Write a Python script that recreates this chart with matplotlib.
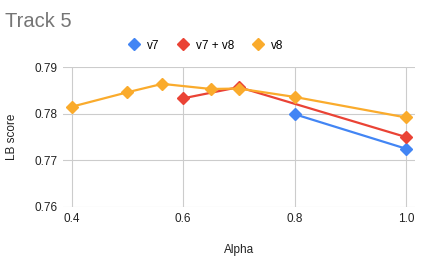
import matplotlib.pyplot as plt

# data
alpha_v7 = [0.8, 1.0]
score_v7 = [0.7799, 0.7725]
alpha_v7v8 = [0.6, 0.7, 1.0]
score_v7v8 = [0.7833, 0.7857, 0.7750]
alpha_v8 = [0.4, 0.5, 0.5625, 0.65, 0.7, 0.8, 1.0]
score_v8 = [0.7815, 0.7846, 0.7864, 0.7853, 0.7854, 0.7836, 0.7792]
x_ticks = [0.4, 0.6, 0.8, 1.0]
y_ticks = [0.76, 0.77, 0.78, 0.79]

plt.rcParams['font.family'] = ['Liberation Sans', 'DejaVu Sans']

fig = plt.figure(figsize=(4.25, 2.6), dpi=100)
ax = fig.add_axes([0.148, 0.204, 0.828, 0.538])

ax.plot(alpha_v7, score_v7, color='#4285F4', marker='D', markersize=6, lw=1.6, label='v7')
ax.plot(alpha_v7v8, score_v7v8, color='#EA4335', marker='D', markersize=6, lw=1.6, label='v7 + v8')
ax.plot(alpha_v8, score_v8, color='#FAAB2C', marker='D', markersize=6, lw=1.6, label='v8')

ax.set_xlim(0.384, 1.016)
ax.set_ylim(0.76, 0.79)
ax.set_xticks(x_ticks)
ax.set_xticklabels([f"{v:.1f}" for v in x_ticks])
ax.set_yticks(y_ticks)
ax.set_yticklabels([f"{v:.2f}" for v in y_ticks])
ax.grid(True, color='#cccccc', lw=0.8)
ax.set_axisbelow(True)
for s in ax.spines.values():
    s.set_visible(False)
ax.tick_params(length=0, labelsize=8.5, colors='#222222', pad=4)

ax.set_xlabel("Alpha", fontsize=8.5, color='#222222', labelpad=14)
ax.set_ylabel("LB score", fontsize=8.5, color='#222222', labelpad=12)

fig.text(0.012, 0.918, "Track 5", fontsize=14.5, color='#757575', va='center')
ax.legend(loc='lower center', bbox_to_anchor=(0.405, 1.035), ncol=3, frameon=False,
          fontsize=8.5, handlelength=1.2, handletextpad=0.5, columnspacing=1.4,
          markerscale=1.0)
leg = ax.get_legend()
for h in leg.legend_handles:
    h.set_linestyle('')

fig.savefig('out.png', dpi=100)
